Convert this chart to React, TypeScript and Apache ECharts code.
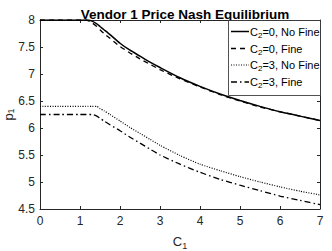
import React, { useEffect, useRef } from "react";
import * as echarts from "echarts";

const c1 = [0, 0.5, 1, 1.15, 1.2, 1.3, 1.42, 1.5, 1.6, 1.75, 2, 2.25, 2.5, 2.75, 3, 3.5, 4, 4.5, 5, 5.5, 6, 6.5, 7];
const c2zeroNoFine = [8, 8, 8, 8, 8, 7.98, 7.93, 7.88, 7.82, 7.73, 7.57, 7.44, 7.33, 7.22, 7.12, 6.93, 6.77, 6.63, 6.51, 6.4, 6.3, 6.22, 6.14];
const c2zeroFine = [8, 8, 8, 8, 7.99, 7.95, 7.88, 7.82, 7.75, 7.66, 7.51, 7.39, 7.28, 7.18, 7.08, 6.91, 6.76, 6.62, 6.5, 6.39, 6.3, 6.22, 6.14];
const c2threeNoFine = [6.4, 6.4, 6.4, 6.4, 6.4, 6.4, 6.4, 6.36, 6.32, 6.25, 6.13, 6.01, 5.9, 5.79, 5.68, 5.49, 5.33, 5.21, 5.1, 5.0, 4.91, 4.83, 4.76];
const c2threeFine = [6.25, 6.25, 6.25, 6.25, 6.25, 6.25, 6.22, 6.18, 6.13, 6.06, 5.95, 5.83, 5.72, 5.61, 5.5, 5.33, 5.18, 5.05, 4.94, 4.84, 4.74, 4.66, 4.58];
const seriesNames = ["C2=0, No Fine", "C2=0, Fine", "C2=3, No Fine", "C2=3, Fine"];

const FONT = "Liberation Sans, Arial, Helvetica, sans-serif";
const AXIS = "#262626";

function pairs(ys: number[]) {
  return c1.map((x, i) => [x, ys[i]]);
}

export default function App() {
  const ref = useRef<HTMLDivElement>(null);
  useEffect(() => {
    if (!ref.current) return;
    const chart = echarts.init(ref.current, null, { renderer: "svg" });
    const axisCommon = {
      axisLine: { show: true, onZero: false, lineStyle: { color: AXIS, width: 1 } },
      axisTick: { show: true, inside: true, length: 3, lineStyle: { color: AXIS } },
      splitLine: { show: false },
    };
    const styles: any[] = [
      { type: "solid", width: 1.5 },
      { type: [5, 4], width: 1.3 },
      { type: [1, 1.5], width: 1.2 },
      { type: [6, 3, 1.5, 3], width: 1.3 },
    ];
    const data = [c2zeroNoFine, c2zeroFine, c2threeNoFine, c2threeFine];
    const legX = 228, legY = 20, legW = 92, legH = 75;
    const rowY = [31.5, 48.5, 65, 82];
    const legendEls: any[] = [
      {
        type: "rect",
        shape: { x: legX + 0.5, y: legY + 0.5, width: legW, height: legH },
        style: { fill: "#fff", stroke: AXIS, lineWidth: 0.8 },
        z: 100,
      },
    ];
    seriesNames.forEach((n, i) => {
      legendEls.push({
        type: "line",
        shape: { x1: 231, y1: rowY[i], x2: 249, y2: rowY[i] },
        style: { stroke: "#000", lineWidth: styles[i].width, lineDash: styles[i].type === "solid" ? null : styles[i].type },
        z: 101,
      });
      legendEls.push({
        type: "text",
        x: 250,
        y: rowY[i],
        style: {
          text: "{a|C}{s|" + n.charAt(1) + "}{a|" + n.slice(2) + "}",
          verticalAlign: "middle",
          rich: {
            a: { fontFamily: FONT, fontSize: 11, fill: "#000" },
            s: { fontFamily: FONT, fontSize: 8, fill: "#000", padding: [7, 0, 0, 0] },
          },
        },
        z: 101,
      });
    });
    chart.setOption({
      animation: false,
      title: {
        text: "Vendor 1 Price Nash Equilibrium",
        left: 180,
        textAlign: "center",
        top: 2,
        textStyle: { fontFamily: FONT, fontSize: 13.5, fontWeight: "bold", color: "#000" },
      },
      grid: { left: 40, right: 12, top: 20, bottom: 42, containLabel: false, outerBoundsMode: "none" },
      graphic: legendEls,
      xAxis: [
        {
          type: "value",
          min: 0,
          max: 7,
          interval: 1,
          position: "bottom",
          ...axisCommon,
          axisLabel: { fontFamily: FONT, fontSize: 12, color: AXIS, margin: 6 },
          name: "{a|C}{s|1}",
          nameLocation: "middle",
          nameGap: 24,
          nameMoveOverlap: false,
          nameTextStyle: {
            rich: {
              a: { fontFamily: FONT, fontSize: 13, color: AXIS },
              s: { fontFamily: FONT, fontSize: 9, color: AXIS, padding: [8, 0, 0, 0] },
            },
          },
        },
        {
          type: "value",
          min: 0,
          max: 7,
          interval: 1,
          position: "top",
          ...axisCommon,
          axisLabel: { show: false },
        },
      ],
      yAxis: [
        {
          type: "value",
          min: 4.5,
          max: 8,
          interval: 0.5,
          position: "left",
          ...axisCommon,
          axisLabel: { fontFamily: FONT, fontSize: 12, color: AXIS, margin: 5 },
          name: "{a|p}{s|1}",
          nameLocation: "middle",
          nameGap: 25,
          nameRotate: 90,
          nameMoveOverlap: false,
          nameTextStyle: {
            rich: {
              a: { fontFamily: FONT, fontSize: 13, color: AXIS },
              s: { fontFamily: FONT, fontSize: 9, color: AXIS, padding: [5, 0, 0, 0] },
            },
          },
        },
        {
          type: "value",
          min: 4.5,
          max: 8,
          interval: 0.5,
          position: "right",
          ...axisCommon,
          axisLabel: { show: false },
        },
      ],
      series: data.map((d, i) => ({
        name: seriesNames[i],
        type: "line",
        data: pairs(d),
        showSymbol: false,
        symbol: "none",
        smooth: 0.2,
        lineStyle: { color: "#000", ...styles[i] },
        itemStyle: { color: "#000" },
      })),
    });
    return () => chart.dispose();
  }, []);
  return <div ref={ref} style={{ width: 332, height: 251, position: "absolute", left: 0, top: 0 }} />;
}
